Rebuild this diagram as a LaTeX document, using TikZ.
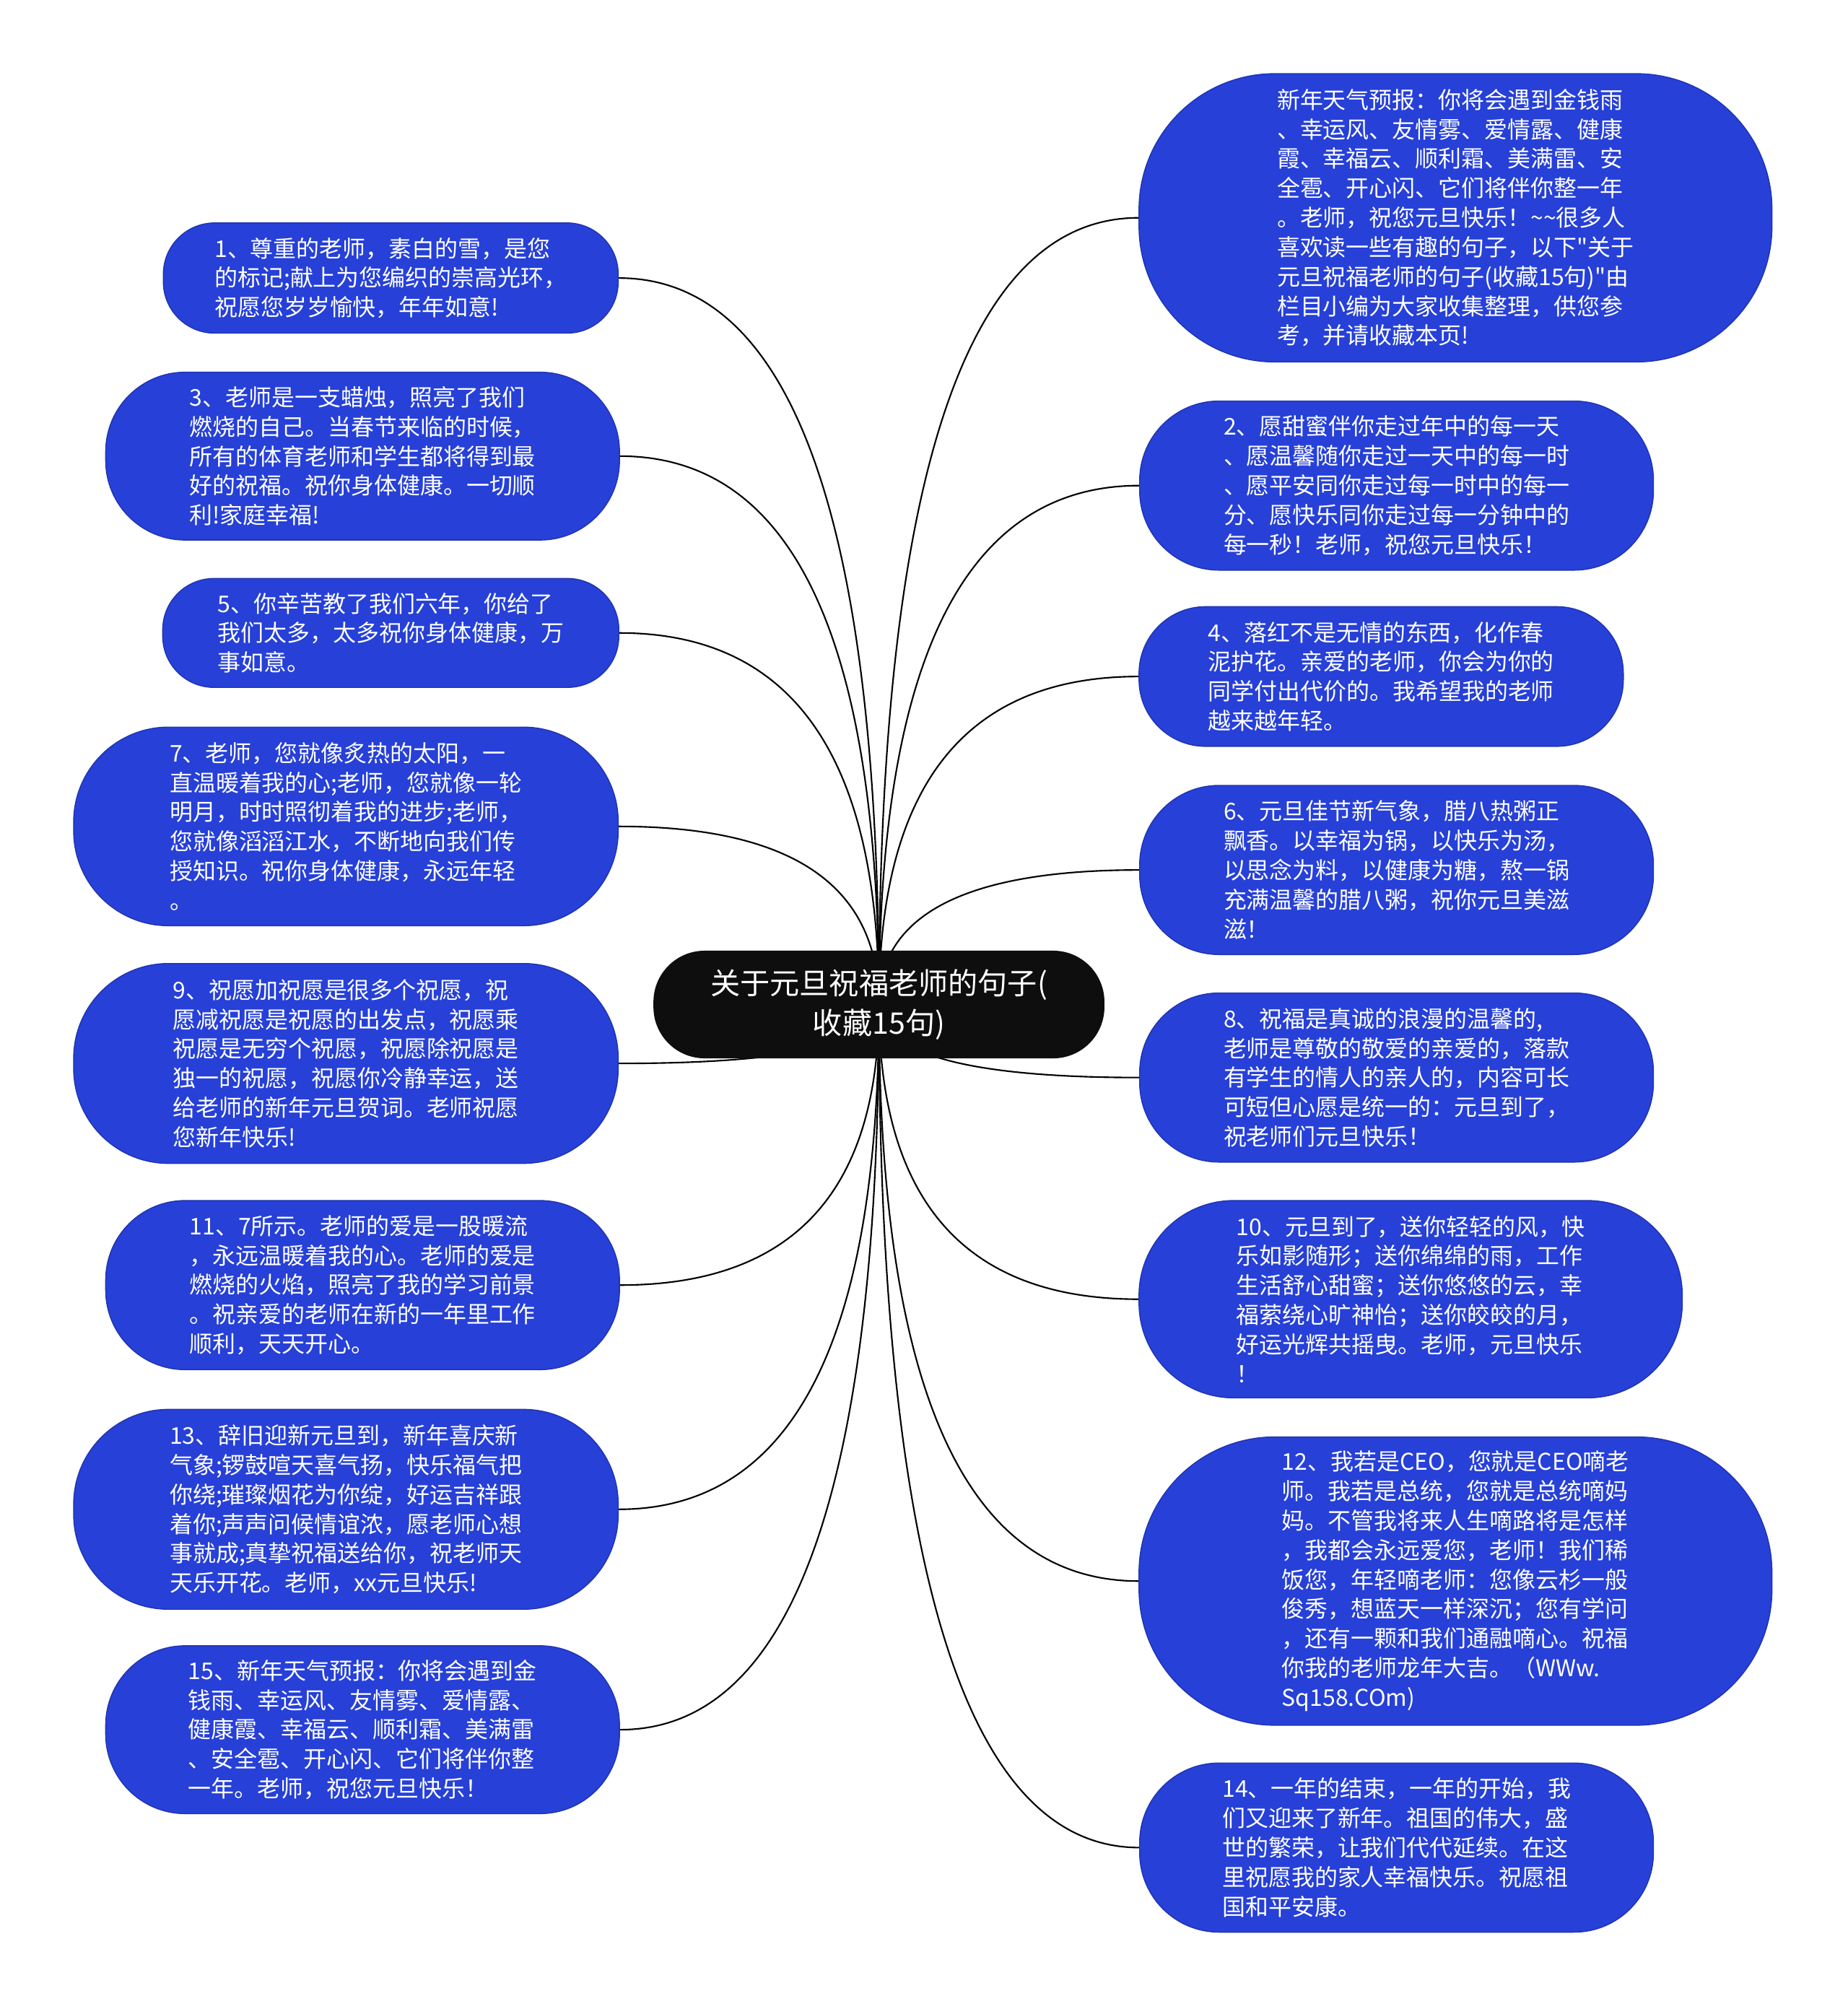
\documentclass[tikz,border=0pt]{standalone}
\usepackage{fontspec}
\setmainfont{Noto Sans CJK SC}
\newfontfamily\cjk{Noto Sans CJK SC}
\usetikzlibrary{backgrounds,calc}
\definecolor{bblue}{RGB}{38,64,216}
\definecolor{bedge}{RGB}{32,52,175}
\definecolor{cblack}{RGB}{14,14,14}
\begin{document}
\begin{tikzpicture}[x=0.5pt,y=-0.5pt,
  bubble/.style={draw=bedge, line width=0.4pt, fill=bblue, text=white, inner sep=0pt, align=left, font=\cjk\fontsize{9}{11.5}\selectfont},
  centre/.style={fill=cblack, text=white, inner sep=0pt, align=center, font=\cjk\fontsize{11.6}{15.5}\selectfont},
  link/.style={draw=black, line width=0.6pt}]
\useasboundingbox (0,0) rectangle (1442,1568);

\node[centre, minimum width=176pt, minimum height=42pt, rounded corners=20pt] (ctr) at (686,784) {关于元旦祝福老师的句子(\\收藏15句)};

% left side
\node[bubble, minimum width=177.5pt, minimum height=43pt, rounded corners=20pt] (n1) at (305,217) {1、尊重的老师，素白的雪，是您\\的标记;献上为您编织的崇高光环，\\祝愿您岁岁愉快，年年如意!};
\node[bubble, minimum width=200.5pt, minimum height=65.5pt, rounded corners=31pt] (n3) at (283,356) {3、老师是一支蜡烛，照亮了我们\\燃烧的自己。当春节来临的时候，\\所有的体育老师和学生都将得到最\\好的祝福。祝你身体健康。一切顺\\利!家庭幸福!};
\node[bubble, minimum width=178pt, minimum height=42.5pt, rounded corners=20pt] (n5) at (305,494) {5、你辛苦教了我们六年，你给了\\我们太多，太多祝你身体健康，万\\事如意。};
\node[bubble, minimum width=212.5pt, minimum height=77.5pt, rounded corners=37pt] (n7) at (270,645) {7、老师，您就像炙热的太阳，一\\直温暖着我的心;老师，您就像一轮\\明月，时时照彻着我的进步;老师，\\您就像滔滔江水，不断地向我们传\\授知识。祝你身体健康，永远年轻\\。};
\node[bubble, minimum width=212.5pt, minimum height=78pt, rounded corners=37pt] (n9) at (270,830) {9、祝愿加祝愿是很多个祝愿，祝\\愿减祝愿是祝愿的出发点，祝愿乘\\祝愿是无穷个祝愿，祝愿除祝愿是\\独一的祝愿，祝愿你冷静幸运，送\\给老师的新年元旦贺词。老师祝愿\\您新年快乐!};
\node[bubble, minimum width=200.5pt, minimum height=66pt, rounded corners=31pt] (n11) at (283,1003) {11、7所示。老师的爱是一股暖流\\，永远温暖着我的心。老师的爱是\\燃烧的火焰，照亮了我的学习前景\\。祝亲爱的老师在新的一年里工作\\顺利，天天开心。};
\node[bubble, minimum width=212.5pt, minimum height=78pt, rounded corners=37pt] (n13) at (270,1178) {13、辞旧迎新元旦到，新年喜庆新\\气象;锣鼓喧天喜气扬，快乐福气把\\你绕;璀璨烟花为你绽，好运吉祥跟\\着你;声声问候情谊浓，愿老师心想\\事就成;真挚祝福送给你，祝老师天\\天乐开花。老师，xx元旦快乐!};
\node[bubble, minimum width=200.5pt, minimum height=65.5pt, rounded corners=31pt] (n15) at (283,1350) {15、新年天气预报：你将会遇到金\\钱雨、幸运风、友情雾、爱情露、\\健康霞、幸福云、顺利霜、美满雷\\、安全雹、开心闪、它们将伴你整\\一年。老师，祝您元旦快乐！};

% right side
\node[bubble, minimum width=247pt, minimum height=112.5pt, rounded corners=53pt] (n0) at (1136,170) {新年天气预报：你将会遇到金钱雨\\、幸运风、友情雾、爱情露、健康\\霞、幸福云、顺利霜、美满雷、安\\全雹、开心闪、它们将伴你整一年\\。老师，祝您元旦快乐！\textasciitilde\textasciitilde 很多人\\喜欢读一些有趣的句子，以下"关于\\元旦祝福老师的句子(收藏15句)"由\\栏目小编为大家收集整理，供您参\\考，并请收藏本页!};
\node[bubble, minimum width=200.5pt, minimum height=66pt, rounded corners=31pt] (n2) at (1090,379) {2、愿甜蜜伴你走过年中的每一天\\、愿温馨随你走过一天中的每一时\\、愿平安同你走过每一时中的每一\\分、愿快乐同你走过每一分钟中的\\每一秒！老师，祝您元旦快乐！};
\node[bubble, minimum width=189pt, minimum height=54.5pt, rounded corners=26pt] (n4) at (1078,528) {4、落红不是无情的东西，化作春\\泥护花。亲爱的老师，你会为你的\\同学付出代价的。我希望我的老师\\越来越年轻。};
\node[bubble, minimum width=200.5pt, minimum height=66pt, rounded corners=31pt] (n6) at (1090,679) {6、元旦佳节新气象，腊八热粥正\\飘香。以幸福为锅，以快乐为汤，\\以思念为料，以健康为糖，熬一锅\\充满温馨的腊八粥，祝你元旦美滋\\滋！};
\node[bubble, minimum width=200.5pt, minimum height=66pt, rounded corners=31pt] (n8) at (1090,841) {8、祝福是真诚的浪漫的温馨的,\\老师是尊敬的敬爱的亲爱的，落款\\有学生的情人的亲人的，内容可长\\可短但心愿是统一的：元旦到了，\\祝老师们元旦快乐！};
\node[bubble, minimum width=212pt, minimum height=77pt, rounded corners=37pt] (n10) at (1101,1014) {10、元旦到了，送你轻轻的风，快\\乐如影随形；送你绵绵的雨，工作\\生活舒心甜蜜；送你悠悠的云，幸\\福萦绕心旷神怡；送你皎皎的月，\\好运光辉共摇曳。老师，元旦快乐\\！};
\node[bubble, minimum width=247pt, minimum height=112.5pt, rounded corners=53pt] (n12) at (1136,1234) {12、我若是CEO，您就是CEO嘀老\\师。我若是总统，您就是总统嘀妈\\妈。不管我将来人生嘀路将是怎样\\，我都会永远爱您，老师！我们稀\\饭您，年轻嘀老师：您像云杉一般\\俊秀，想蓝天一样深沉；您有学问\\，还有一颗和我们通融嘀心。祝福\\你我的老师龙年大吉。（WWw.\\Sq158.COm)};
\node[bubble, minimum width=200.5pt, minimum height=66pt, rounded corners=31pt] (n14) at (1090,1442) {14、一年的结束，一年的开始，我\\们又迎来了新年。祖国的伟大，盛\\世的繁荣，让我们代代延续。在这\\里祝愿我的家人幸福快乐。祝愿祖\\国和平安康。};

\begin{pgfonlayer}{background}
\fill[white] (0,0) rectangle (1442,1568);
\foreach \n in {n1,n3,n5,n7,n9,n11,n13,n15}
  \draw[link] (ctr.center) .. controls ($(ctr.center)!0.667!(ctr.center |- \n.east)$) and ($(\n.east)!0.667!(ctr.center |- \n.east)$) .. (\n.east);
\foreach \n in {n0,n2,n4,n6,n8,n10,n12,n14}
  \draw[link] (ctr.center) .. controls ($(ctr.center)!0.667!(ctr.center |- \n.west)$) and ($(\n.west)!0.667!(ctr.center |- \n.west)$) .. (\n.west);
\end{pgfonlayer}
\end{tikzpicture}
\end{document}
